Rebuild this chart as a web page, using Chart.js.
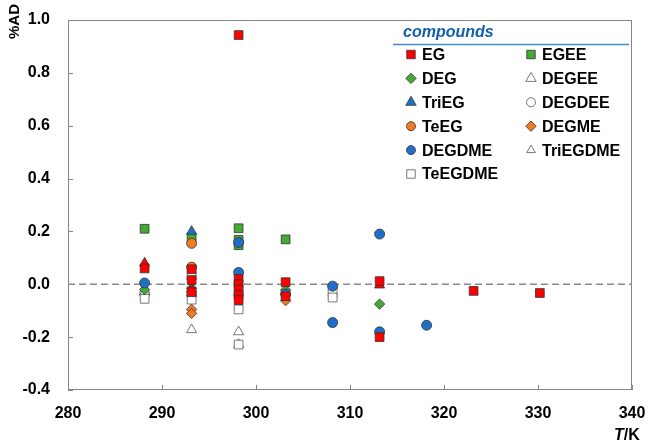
<!DOCTYPE html>
<html>
<head>
<meta charset="utf-8">
<script src="https://cdn.jsdelivr.net/npm/chart.js@4"></script>
<style>
  html, body { margin: 0; padding: 0; background: #fff; }
</style>
</head>
<body>
<canvas id="grafica-ad" width="650" height="444"></canvas>
<script>
// datos: temperatura (K) y %AD por compuesto
const T_EG  = [288.15, 293.15, 293.15, 293.15, 298.15, 298.15, 298.15, 298.15, 298.15, 298.15, 303.15, 303.15, 313.15, 313.15, 323.15, 330.2];
const AD_EG = [0.06, 0.057, 0.016, -0.03, 0.943, 0.02, 0.0, -0.02, -0.04, -0.06, 0.008, -0.045, 0.012, -0.2, -0.025, -0.033];

const T_EGEE  = [288.15, 293.15, 298.15, 298.15, 298.15, 303.15];
const AD_EGEE = [0.21, 0.178, 0.212, 0.168, 0.148, 0.17];

const T_DEG  = [288.15, 293.15, 303.15, 313.15];
const AD_DEG = [-0.02, -0.015, -0.022, -0.075];

const T_DEGEE  = [293.15, 298.15];
const AD_DEGEE = [-0.172, -0.18];

const T_TriEG  = [293.15];
const AD_TriEG = [0.2];

const T_DEGDEE  = [288.15, 293.15];
const AD_DEGDEE = [-0.035, -0.04];

const T_TeEG  = [293.15, 293.15];
const AD_TeEG = [0.155, 0.065];

const T_DEGME  = [293.15, 293.15, 298.15, 303.15];
const AD_DEGME = [-0.095, -0.11, -0.04, -0.062];

const T_DEGDME  = [288.15, 298.15, 298.15, 303.15, 308.15, 308.15, 313.15, 313.15, 318.15];
const AD_DEGDME = [0.005, 0.158, 0.045, -0.037, -0.007, -0.145, 0.19, -0.18, -0.155];

const T_TriEGDME  = [288.15, 293.15, 298.15];
const AD_TriEGDME = [-0.03, 0.03, -0.228];

const T_TeEGDME  = [288.15, 293.15, 293.15, 298.15, 298.15, 308.15, 308.15];
const AD_TeEGDME = [-0.055, -0.058, 0.035, -0.095, -0.228, -0.03, -0.05];

// triangulos rojos que no salen en la leyenda
const T_extra  = [288.15, 293.15, 313.15];
const AD_extra = [0.08, -0.018, -0.003];

const T_CERO  = [280, 340];
const AD_CERO = [0, 0];

const X_TICKS = [280, 290, 300, 310, 320, 330, 340];
const Y_TICKS = [-0.4, -0.2, 0.0, 0.2, 0.4, 0.6, 0.8, 1.0];

const LEYENDA = ['EG', 'EGEE', 'DEG', 'DEGEE', 'TriEG', 'DEGDEE', 'TeEG', 'DEGME', 'DEGDME', 'TriEGDME', 'TeEGDME'];

const FUENTE = '"Liberation Sans", Arial, sans-serif';
const ROJO = '#ff0000', VERDE = '#44aa35', AZUL = '#1f6fc8', NARANJA = '#f27b25', BLANCO = '#ffffff';

function puntos(ts, ads) {
  return ts.map((t, i) => ({ x: t, y: ads[i] }));
}

function serie(label, ts, ads, estilo, relleno, radio, radioLeyenda) {
  return {
    label: label,
    data: puntos(ts, ads),
    pointStyle: estilo,
    pointRadius: radio,
    backgroundColor: relleno,
    borderColor: relleno === BLANCO ? '#555555' : '#333333',
    borderWidth: 0.8,
    radioLeyenda: radioLeyenda
  };
}

const datasets = [
  serie('EG', T_EG, AD_EG, 'rect', ROJO, 6.2, 6),
  serie('DEGDME', T_DEGDME, AD_DEGDME, 'circle', AZUL, 5, 4.5),
  serie('', T_extra, AD_extra, 'triangle', ROJO, 5.8, 5),
  serie('TeEG', T_TeEG, AD_TeEG, 'circle', NARANJA, 5, 4.5),
  serie('TriEG', T_TriEG, AD_TriEG, 'triangle', AZUL, 5.8, 6),
  serie('DEG', T_DEG, AD_DEG, 'rectRot', VERDE, 5.2, 5.2),
  serie('DEGME', T_DEGME, AD_DEGME, 'rectRot', NARANJA, 5.2, 5.2),
  serie('TeEGDME', T_TeEGDME, AD_TeEGDME, 'rect', BLANCO, 6.2, 6),
  serie('TriEGDME', T_TriEGDME, AD_TriEGDME, 'triangle', BLANCO, 5.8, 5),
  serie('DEGEE', T_DEGEE, AD_DEGEE, 'triangle', BLANCO, 5.8, 6),
  serie('DEGDEE', T_DEGDEE, AD_DEGDEE, 'circle', BLANCO, 5, 4.5),
  serie('EGEE', T_EGEE, AD_EGEE, 'rect', VERDE, 6.2, 6),
  {
    label: 'cero',
    data: puntos(T_CERO, AD_CERO),
    showLine: true,
    borderColor: '#8a8a8a',
    borderWidth: 1.5,
    borderDash: [7, 4],
    pointRadius: 0
  }
];

const marco = {
  id: 'marco',
  beforeDatasetsDraw(chart) {
    const c = chart.ctx, a = chart.chartArea;
    const xs = chart.scales.x, ys = chart.scales.y;
    c.save();
    c.strokeStyle = '#868686';
    c.lineWidth = 1;
    c.strokeRect(Math.round(a.left) + 0.5, Math.round(a.top) + 0.5, Math.round(a.right - a.left) - 1, Math.round(a.bottom - a.top) - 1);
    c.beginPath();
    X_TICKS.forEach(v => {
      const px = Math.round(xs.getPixelForValue(v)) + 0.5;
      c.moveTo(px, a.bottom);
      c.lineTo(px, a.bottom - 5);
    });
    Y_TICKS.forEach(v => {
      const py = Math.round(ys.getPixelForValue(v)) + 0.5;
      c.moveTo(a.left, py);
      c.lineTo(a.left + 5, py);
    });
    c.stroke();
    c.restore();
  },
  afterDraw(chart) {
    const c = chart.ctx;
    c.save();
    // titulos de ejes
    c.fillStyle = '#000';
    c.font = 'bold 15px ' + FUENTE;
    c.translate(15, 4);
    c.rotate(-Math.PI / 2);
    c.textAlign = 'right';
    c.textBaseline = 'middle';
    c.fillText('%AD', 0, 0);
    c.restore();

    c.save();
    c.fillStyle = '#000';
    c.textBaseline = 'middle';
    c.font = 'italic bold 16px ' + FUENTE;
    c.fillText('T', 614, 436);
    const wT = c.measureText('T').width;
    c.font = 'bold 16px ' + FUENTE;
    c.fillText('/K', 614 + wT, 436);

    // leyenda
    c.font = 'italic bold 16px ' + FUENTE;
    c.fillStyle = '#1160ae';
    c.textBaseline = 'alphabetic';
    c.fillText('compounds', 403, 37);
    c.strokeStyle = '#3d8fd8';
    c.lineWidth = 1.5;
    c.beginPath();
    c.moveTo(393, 44.5);
    c.lineTo(629, 44.5);
    c.stroke();

    c.font = 'bold 16px ' + FUENTE;
    c.textBaseline = 'middle';
    LEYENDA.forEach((nombre, i) => {
      const ds = chart.data.datasets.find(d => d.label === nombre);
      const col = i % 2, fila = Math.floor(i / 2);
      const mx = col === 0 ? 411 : 531;
      const tx = col === 0 ? 422 : 542;
      const y = 54.5 + fila * 23.9;
      c.fillStyle = ds.backgroundColor;
      c.strokeStyle = ds.borderColor;
      c.lineWidth = 0.8;
      Chart.helpers.drawPoint(c, { pointStyle: ds.pointStyle, radius: ds.radioLeyenda, rotation: 0, borderWidth: 0.8 }, mx, y);
      c.fillStyle = '#000';
      c.fillText(nombre, tx, y + 1);
    });
    c.restore();
  }
};

new Chart(document.getElementById('grafica-ad'), {
  type: 'scatter',
  data: { datasets: datasets },
  options: {
    responsive: false,
    animation: false,
    layout: { padding: { top: 20, right: 18, left: 0, bottom: 0 } },
    plugins: {
      legend: { display: false },
      tooltip: { enabled: false }
    },
    scales: {
      x: {
        type: 'linear',
        min: 280,
        max: 340,
        afterBuildTicks(s) { s.ticks = X_TICKS.map(v => ({ value: v })); },
        afterFit(s) { s.height = 54; s.paddingLeft = 0; s.paddingRight = 0; },
        grid: { display: false, drawTicks: false },
        border: { display: false },
        ticks: {
          padding: 14,
          color: '#000',
          font: { family: FUENTE, size: 16, weight: 'bold' },
          callback: v => String(v)
        }
      },
      y: {
        min: -0.4,
        max: 1.0,
        afterBuildTicks(s) { s.ticks = Y_TICKS.map(v => ({ value: v })); },
        afterFit(s) { s.width = 68; s.paddingTop = 0; s.paddingBottom = 0; },
        grid: { display: false, drawTicks: false },
        border: { display: false },
        ticks: {
          padding: 18,
          color: '#000',
          font: { family: FUENTE, size: 16, weight: 'bold' },
          callback: v => (Math.abs(v) < 1e-9 ? 0 : v).toFixed(1)
        }
      }
    }
  },
  plugins: [marco]
});
</script>
</body>
</html>
